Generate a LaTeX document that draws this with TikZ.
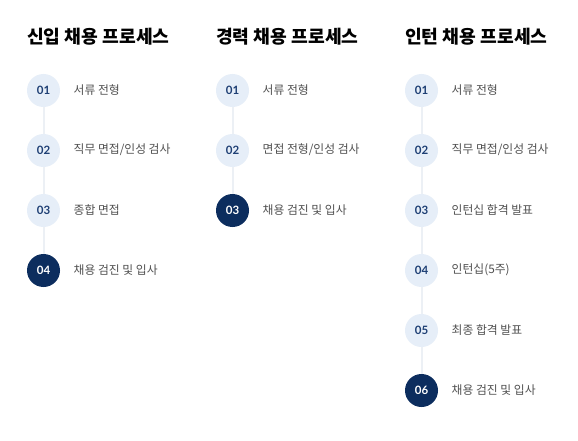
\documentclass[tikz,border=0pt]{standalone}
\usepackage{fontspec}
\setmainfont{Noto Sans CJK KR}
\newfontfamily\numfont{Lato}
\definecolor{lightc}{HTML}{E6EEF8}
\definecolor{darkc}{HTML}{0C2D5E}
\definecolor{numc}{HTML}{1E3F74}
\definecolor{linec}{HTML}{ECF0F5}
\definecolor{labc}{HTML}{505050}
\begin{document}
\begin{tikzpicture}[x=1pt,y=-1pt,
  stepc/.style={circle,minimum size=33pt,inner sep=0pt,fill=lightc,text=numc,font=\numfont\bfseries\fontsize{11.5}{13}\selectfont},
  laststep/.style={stepc,fill=darkc,text=white},
  lab/.style={anchor=west,text=labc,font=\fontsize{11.8}{13}\selectfont,inner sep=0pt},
  ttl/.style={anchor=west,inner sep=0pt,font=\bfseries\fontsize{18.2}{20}\selectfont,text=black},
  conn/.style={draw=linec,line width=2pt}]
\useasboundingbox (0,0) rectangle (578,441);
\fill[white] (0,0) rectangle (578,441);
% column 1
\node[ttl] (t1) at (27,37) {신입 채용 프로세스};
\node[stepc] (a1) at (43.5,90.5) {01};
\node[stepc] (a2) at (43.5,150.5) {02};
\node[stepc] (a3) at (43.5,210.5) {03};
\node[laststep] (a4) at (43.5,270.5) {04};
\draw[conn] (a1) -- (a2); \draw[conn] (a2) -- (a3); \draw[conn] (a3) -- (a4);
\node[lab] (la1) at (73.5,90) {서류 전형};
\node[lab] (la2) at (73.5,150) {직무 면접/인성 검사};
\node[lab] (la3) at (73.5,210) {종합 면접};
\node[lab] (la4) at (73.5,270) {채용 검진 및 입사};
% column 2
\node[ttl] (t2) at (216,37) {경력 채용 프로세스};
\node[stepc] (b1) at (232.5,90.5) {01};
\node[stepc] (b2) at (232.5,150.5) {02};
\node[laststep] (b3) at (232.5,210.5) {03};
\draw[conn] (b1) -- (b2); \draw[conn] (b2) -- (b3);
\node[lab] (lb1) at (262.5,90) {서류 전형};
\node[lab] (lb2) at (262.5,150) {면접 전형/인성 검사};
\node[lab] (lb3) at (262.5,210) {채용 검진 및 입사};
% column 3
\node[ttl] (t3) at (405,37) {인턴 채용 프로세스};
\node[stepc] (c1) at (421.5,90.5) {01};
\node[stepc] (c2) at (421.5,150.5) {02};
\node[stepc] (c3) at (421.5,210.5) {03};
\node[stepc] (c4) at (421.5,270.5) {04};
\node[stepc] (c5) at (421.5,330.5) {05};
\node[laststep] (c6) at (421.5,390.5) {06};
\draw[conn] (c1) -- (c2); \draw[conn] (c2) -- (c3); \draw[conn] (c3) -- (c4);
\draw[conn] (c4) -- (c5); \draw[conn] (c5) -- (c6);
\node[lab] (lc1) at (451.5,90) {서류 전형};
\node[lab] (lc2) at (451.5,150) {직무 면접/인성 검사};
\node[lab] (lc3) at (451.5,210) {인턴십 합격 발표};
\node[lab] (lc4) at (451.5,270) {인턴십(5주)};
\node[lab] (lc5) at (451.5,330) {최종 합격 발표};
\node[lab] (lc6) at (451.5,390) {채용 검진 및 입사};
\end{tikzpicture}
\end{document}
